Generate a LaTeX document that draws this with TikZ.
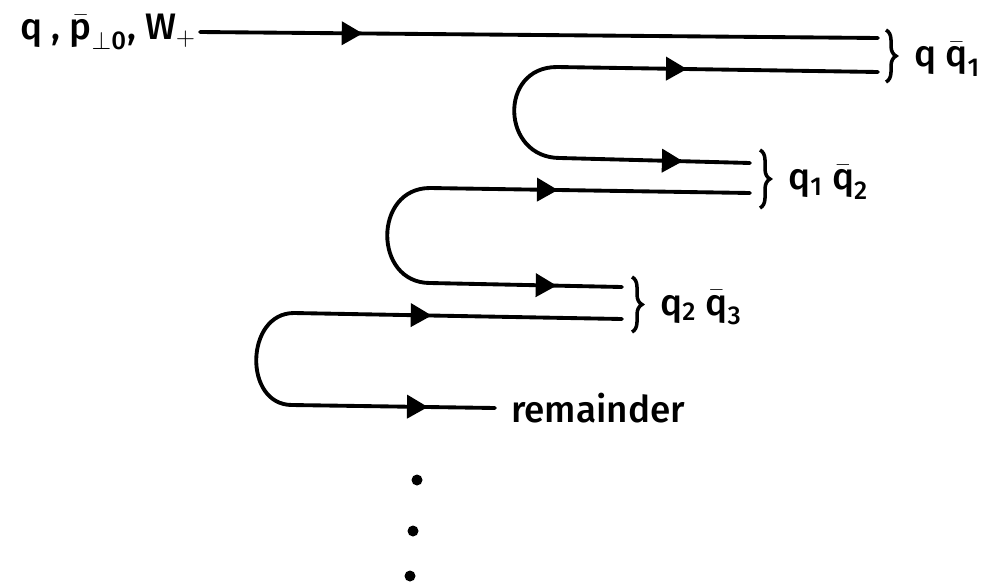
\documentclass[tikz,border=0pt]{standalone}
\usepackage{amsmath}
\usepackage{fontspec}
\setmainfont{Fira Sans}[UprightFont={* Medium}]
\usetikzlibrary{arrows.meta, decorations.markings, decorations.pathreplacing, positioning, calc}
\newcommand{\qbar}[1]{$\bar{\text{q}}_{\text{#1}}$}
\newcommand{\qsub}[1]{q$_{\text{#1}}$}

\begin{document}
\begin{tikzpicture}[x=0.02cm, y=-0.02cm,
  line/.style={line width=2.2pt, line cap=round},
  quark/.style={line, postaction={decorate}, decoration={markings,
      mark=at position #1 with {\arrow{Triangle[length=0.42cm, width=0.46cm]}}}},
  pair/.style={decorate, decoration={brace, amplitude=0.2cm}, line width=2pt},
  lbl/.style={font=\fontsize{21}{25}\selectfont},
  dot/.style={circle, fill, inner sep=0pt, minimum size=0.22cm},
]
  \useasboundingbox (0,0) rectangle (990,582);
  % incoming quark
  \node[lbl, anchor=east, inner sep=2pt] (src) at (200,32)
    {q , $\bar{\text{p}}_{\perp\text{0}}$, W$_{+}$};
  \coordinate (t1) at (878,38);
  \draw[quark=0.24] (src.east) -- (t1);
  % first loop
  \coordinate (u1a) at (557,67);  \coordinate (u1b) at (878,72);
  \coordinate (l1a) at (560,158); \coordinate (l1b) at (750,163);
  \draw[quark=0.405] (u1a) -- (u1b);
  \draw[quark=0.647] (l1a) -- (l1b);
  \draw[line] (u1a) .. controls +(-59,0) and +(-59,0) .. (l1a);
  % second loop
  \coordinate (u2a) at (430,188); \coordinate (u2b) at (750,193);
  \coordinate (l2a) at (430,283); \coordinate (l2b) at (622,287);
  \draw[quark=0.40] (u2a) -- (u2b);
  \draw[quark=0.66] (l2a) -- (l2b);
  \draw[line] (u2a) .. controls +(-57,0) and +(-57,0) .. (l2a);
  % third loop
  \coordinate (u3a) at (294,313); \coordinate (u3b) at (622,319);
  \coordinate (l3a) at (292,405); \coordinate (l3b) at (495,408);
  \draw[quark=0.42] (u3a) -- (u3b);
  \draw[quark=0.67] (l3a) -- (l3b);
  \draw[line] (u3a) .. controls +(-49,0) and +(-49,0) .. (l3a);
  \node[lbl, right=0.2cm of l3b] (rem) {remainder};
  % pairs
  \coordinate (b1t) at (886,30);  \coordinate (b1b) at (886,82);
  \coordinate (b2t) at (760,150); \coordinate (b2b) at (760,208);
  \coordinate (b3t) at (632,277); \coordinate (b3b) at (632,332);
  \draw[pair] (b1t) -- (b1b);
  \draw[pair] (b2t) -- (b2b);
  \draw[pair] (b3t) -- (b3b);
  \node[lbl, anchor=west] (qq1) at ($(b1t)!.5!(b1b)+(22,3)$) {q \qbar{1}};
  \node[lbl, anchor=west] (qq2) at ($(b2t)!.5!(b2b)+(22,3)$) {\qsub{1} \qbar{2}};
  \node[lbl, anchor=west] (qq3) at ($(b3t)!.5!(b3b)+(22,3)$) {\qsub{2} \qbar{3}};
  % and so on
  \foreach \x/\y [count=\i] in {417/480, 413/531, 410/576}
    \node[dot] (dot\i) at (\x,\y) {};
\end{tikzpicture}
\end{document}
